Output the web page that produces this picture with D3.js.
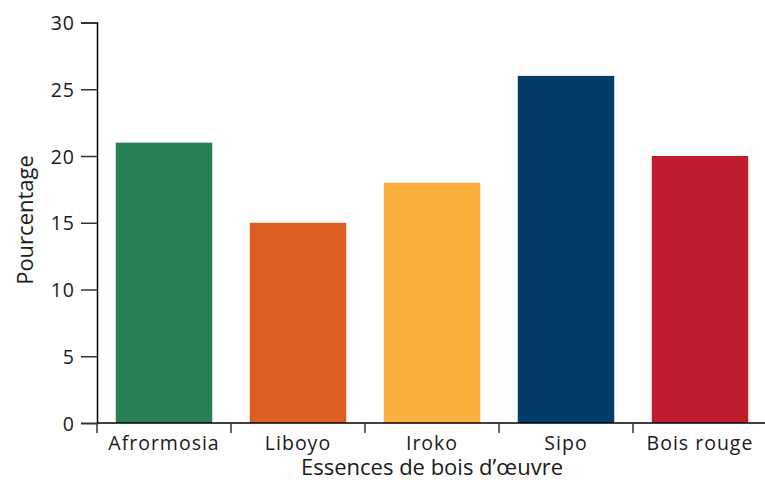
<!DOCTYPE html>
<html>
<head>
<meta charset="utf-8">
<script src="https://cdn.jsdelivr.net/npm/d3@7"></script>
<style>
  body { margin: 0; background: #fff; }
  svg text { font-family: "Open Sans", "Noto Sans", sans-serif; fill: #1a1a1a; }
</style>
</head>
<body>
<svg id="chart" width="765" height="480"></svg>
<script>
const categories = ['Afrormosia', 'Liboyo', 'Iroko', 'Sipo', 'Bois rouge']
const values = [21, 15, 18, 26, 20]
const colors = ['#2a8055', '#dd5f23', '#fbb040', '#033c68', '#be1e2d']
const yTicks = [0, 5, 10, 15, 20, 25, 30]

const svg = d3.select('#chart')
// plot area edges (avoid `top`, which is window.top)
const plotLeft = 97, plotRight = 767, plotTop = 22.5, plotBottom = 423

let x = d3.scaleBand().domain(categories).range([plotLeft, plotRight])
let y = d3.scaleLinear().domain([0, 30]).range([plotBottom, plotTop])

// bars take about 72% of each band, centred
let barW = x.bandwidth() * 0.72
svg.append('g')
  .selectAll('rect')
  .data(categories)
  .join('rect')
    .attr('x', d => x(d) + (x.bandwidth() - barW) / 2)
    .attr('y', (d, i) => y(values[i]))
    .attr('width', barW)
    .attr('height', (d, i) => y(0) - y(values[i]))
    .attr('fill', (d, i) => colors[i])

// y axis
let yAxis = svg.append('g')
  .attr('transform', `translate(${plotLeft},0)`)
  .call(d3.axisLeft(y).tickValues(yTicks).tickSize(16).tickPadding(6))
yAxis.select('.domain').attr('stroke', '#000').attr('stroke-width', 1.5)
yAxis.selectAll('.tick line').attr('stroke', '#333').attr('stroke-width', 1.5)
yAxis.selectAll('.tick text')
  .style('font-size', '19.5px').style('letter-spacing', '1px')
  .attr('fill', '#1a1a1a').attr('dy', '0.36em')

// x axis: ticks sit at band boundaries
let xAxis = svg.append('g').attr('transform', `translate(0,${plotBottom})`)
xAxis.append('line')
  .attr('x1', plotLeft).attr('x2', 765)
  .attr('stroke', '#000').attr('stroke-width', 1.5)
xAxis.selectAll('line.sep')
  .data(categories)
  .join('line')
    .classed('sep', true)
    .attr('x1', d => x(d)).attr('x2', d => x(d))
    .attr('y1', 0).attr('y2', 10)
    .attr('stroke', '#333').attr('stroke-width', 1.5)
xAxis.selectAll('text')
  .data(categories)
  .join('text')
    .attr('x', d => x(d) + x.bandwidth() / 2)
    .attr('y', 27)
    .attr('text-anchor', 'middle')
    .style('font-size', '19.5px')
    .style('letter-spacing', '1px')
    .text(d => d)

// axis titles
svg.append('text')
  .attr('x', 432).attr('y', 475)
  .attr('text-anchor', 'middle')
  .style('font-size', '22px')
  .text('Essences de bois d’œuvre')

svg.append('text')
  .attr('transform', 'translate(33,220) rotate(-90)')
  .attr('text-anchor', 'middle')
  .style('font-size', '22px')
  .text('Pourcentage')
</script>
</body>
</html>
